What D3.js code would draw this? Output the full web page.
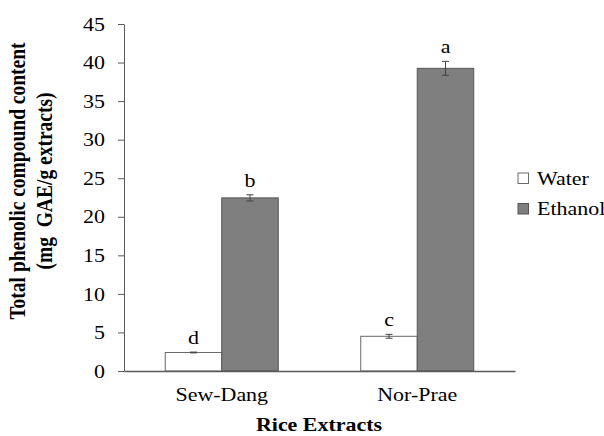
<!DOCTYPE html>
<html>
<head>
<meta charset="utf-8">
<script src="https://cdn.jsdelivr.net/npm/d3@7"></script>
<style>
  body { margin: 0; background: #fff; }
  text { font-family: "Liberation Serif", "Times New Roman", serif; fill: #000; }
</style>
</head>
<body>
<script>
var categories = ["Sew-Dang", "Nor-Prae"];
var seriesNames = ["Water", "Ethanol"];
var waterValues = [2.4, 4.5];
var waterErrors = [0.05, 0.25];
var ethanolValues = [22.45, 39.25];
var ethanolErrors = [0.4, 0.9];
var waterLetters = ["d", "c"];
var ethanolLetters = ["b", "a"];
var yTicks = [0, 5, 10, 15, 20, 25, 30, 35, 40, 45];

var width = 604, height = 436;
var stretch = 1.22; // tekst is in het origineel horizontaal uitgerekt

var svg = d3.select("body").append("svg")
    .attr("width", width)
    .attr("height", height);

var x0 = d3.scaleBand().domain(categories).range([124, 515])
    .paddingInner(0.422).paddingOuter(0.211);
var x1 = d3.scaleBand().domain(seriesNames).range([0, x0.bandwidth()]);
var y = d3.scaleLinear().domain([0, 45]).range([371, 24]);

var fills = {Water: "#ffffff", Ethanol: "#7f7f7f"};
var strokes = {Water: "#6a6a6a", Ethanol: "#555555"};

var rows = [];
categories.forEach(function(c, i) {
  rows.push({cat: c, s: "Water", v: waterValues[i], e: waterErrors[i], l: waterLetters[i]});
  rows.push({cat: c, s: "Ethanol", v: ethanolValues[i], e: ethanolErrors[i], l: ethanolLetters[i]});
});

function sText(g, x, yy, size, txt, anchor, weight) {
  return g.append("text")
    .attr("transform", "translate(" + x + "," + yy + ") scale(" + stretch + ",1)")
    .attr("text-anchor", anchor || "middle")
    .style("font-size", size + "px")
    .style("font-weight", weight || "normal")
    .text(txt);
}

// y-as
var yAxis = svg.append("g")
    .attr("transform", "translate(124,0)")
    .call(d3.axisLeft(y).tickValues(yTicks).tickSize(6).tickSizeOuter(0));
yAxis.select(".domain").attr("stroke", "#5a5a5a");
yAxis.selectAll("line").attr("stroke", "#5a5a5a");
yAxis.selectAll("text")
    .attr("x", -15.6)
    .attr("dy", "0.34em")
    .attr("transform", "scale(" + stretch + ",1)")
    .style("font-size", "18px")
    .style("font-family", "Liberation Serif");

// balken
svg.selectAll("rect.bar")
  .data(rows)
  .enter().append("rect")
    .attr("class", "bar")
    .attr("x", function(d) { return x0(d.cat) + x1(d.s); })
    .attr("y", function(d) { return y(d.v); })
    .attr("width", x1.bandwidth())
    .attr("height", function(d) { return y(0) - y(d.v); })
    .attr("fill", function(d) { return fills[d.s]; })
    .attr("stroke", function(d) { return strokes[d.s]; })
    .attr("stroke-width", 1);

// x-as lijn
svg.append("g")
    .attr("transform", "translate(0,371)")
    .call(d3.axisBottom(x0).tickSize(0).tickFormat(""))
    .select(".domain").attr("stroke", "#5a5a5a").attr("stroke-width", 1.3);

// foutbalken
var err = svg.selectAll("g.err").data(rows).enter().append("g").attr("class", "err")
    .attr("stroke", "#444").attr("stroke-width", 1);
err.append("line")
    .attr("x1", function(d) { return x0(d.cat) + x1(d.s) + x1.bandwidth() / 2; })
    .attr("x2", function(d) { return x0(d.cat) + x1(d.s) + x1.bandwidth() / 2; })
    .attr("y1", function(d) { return y(d.v - d.e); })
    .attr("y2", function(d) { return y(d.v + d.e); });
[-1, 1].forEach(function(sgn) {
  err.append("line")
    .attr("x1", function(d) { return x0(d.cat) + x1(d.s) + x1.bandwidth() / 2 - 3.5; })
    .attr("x2", function(d) { return x0(d.cat) + x1(d.s) + x1.bandwidth() / 2 + 3.5; })
    .attr("y1", function(d) { return y(d.v + sgn * d.e); })
    .attr("y2", function(d) { return y(d.v + sgn * d.e); });
});

// letters boven de balken
rows.forEach(function(d) {
  sText(svg, x0(d.cat) + x1(d.s) + x1.bandwidth() / 2, y(d.v + d.e) - 8, 18, d.l);
});

// categorie labels
categories.forEach(function(c) {
  sText(svg, x0(c) + x0.bandwidth() / 2, 401, 18, c);
});

// as titels
sText(svg, 319, 431, 18, "Rice Extracts", "middle", "bold");

var yt = svg.append("g").attr("transform", "translate(25,181) rotate(-90)");
yt.append("text").attr("text-anchor", "middle")
    .attr("transform", "scale(1," + stretch + ")")
    .style("font-size", "19.5px").style("font-weight", "bold")
    .text("Total phenolic compound content");
var yt2 = svg.append("g").attr("transform", "translate(52,181) rotate(-90)");
yt2.append("text").attr("text-anchor", "middle")
    .attr("transform", "scale(1," + stretch + ")")
    .attr("xml:space", "preserve")
    .style("font-size", "19.5px").style("font-weight", "bold")
    .style("white-space", "pre")
    .text("(mg  GAE/g extracts)");

// legenda
seriesNames.forEach(function(s, i) {
  var ly = 173 + i * 30.5;
  svg.append("rect")
    .attr("x", 518).attr("y", ly)
    .attr("width", 10.5).attr("height", 10.5)
    .attr("fill", fills[s]).attr("stroke", strokes[s]);
  sText(svg, 537, ly + 11.5, 18, s, "start");
});
</script>
</body>
</html>
